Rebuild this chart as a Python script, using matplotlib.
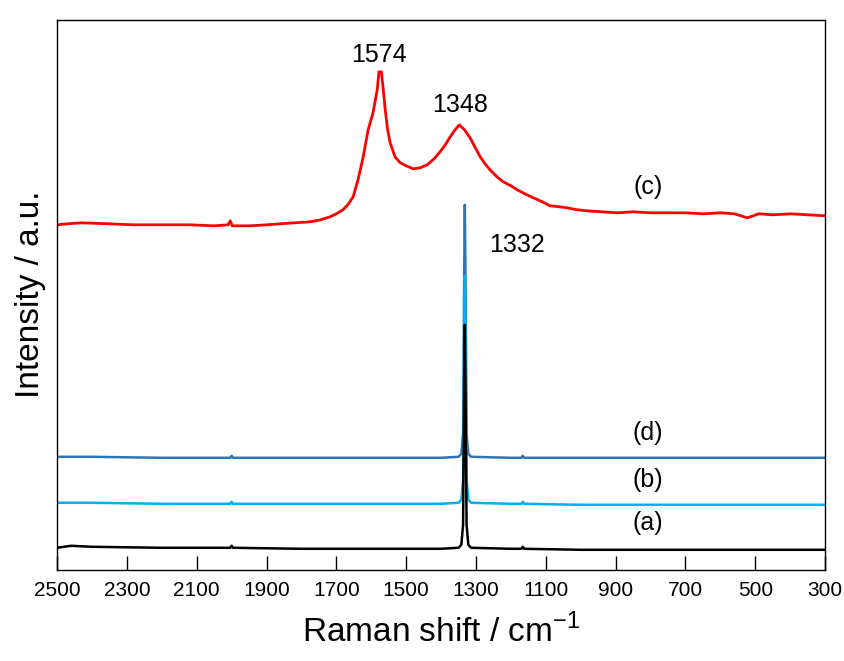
import matplotlib.pyplot as plt

plt.rcParams['font.family'] = ['Liberation Sans', 'DejaVu Sans']
plt.rcParams['mathtext.fontset'] = 'custom'
plt.rcParams['mathtext.rm'] = 'Liberation Sans'

# Raman shift (cm-1) and intensity (a.u., offset already included)
# (c) red - graphite-like D and G bands
c_shift = [2500, 2470, 2430, 2350, 2280, 2200, 2120, 2050, 2010, 2004, 1998, 1947,
           1900, 1861, 1820, 1775, 1745, 1718, 1700, 1681, 1665, 1652, 1638, 1623,
           1609, 1595, 1583, 1578, 1571, 1565, 1560, 1553, 1546, 1532, 1517, 1500,
           1480, 1460, 1440, 1420, 1403, 1388, 1374, 1360, 1348, 1333, 1317, 1302,
           1288, 1274, 1260, 1240, 1222, 1200, 1182, 1160, 1136, 1110, 1088, 1060,
           1039, 1010, 982, 940, 896, 850, 800, 750, 700, 650, 600, 560, 523, 490,
           450, 400, 350, 300]
c_int = [345, 346, 347, 346, 345, 345, 345, 344, 345, 349, 344, 344,
         345, 346, 347, 348, 350, 353, 356, 360, 366, 373, 390, 413,
         440, 457, 480, 498, 498, 478, 460, 440, 427, 413, 407, 404,
         401, 402, 405, 411, 418, 425, 433, 440, 445, 440, 432, 422,
         413, 406, 400, 393, 388, 384, 380, 376, 372, 368, 364, 363,
         362, 360, 359, 358, 357, 358, 357, 357, 357, 356, 357, 356, 352, 356,
         355, 356, 355, 354]

# (a), (b), (d) - diamond line at 1332
base_shift = [2500, 2460, 2400, 2200, 2004, 2000, 1996, 1800, 1600, 1400, 1350, 1342,
              1337, 1334, 1332, 1330, 1327, 1322, 1314, 1200, 1170, 1166, 1162, 1000,
              800, 600, 300]
a_int = [22, 24, 23, 22, 22, 24, 22, 21, 21, 21, 22, 25,
         45, 180, 245, 180, 45, 25, 22, 21, 21, 23, 21, 20,
         20, 20, 20]
b_int = [67, 67, 67, 66, 66, 68, 66, 66, 66, 66, 67, 70,
         90, 230, 294, 230, 90, 70, 67, 66, 66, 68, 66, 65,
         65, 65, 65]
d_int = [113, 113, 113, 112, 112, 114, 112, 112, 112, 112, 113, 116,
         136, 290, 365, 290, 136, 116, 113, 112, 112, 114, 112, 112,
         112, 112, 112]

x_ticks = [2500, 2300, 2100, 1900, 1700, 1500, 1300, 1100, 900, 700, 500, 300]

fig = plt.figure(figsize=(8.45, 6.61), dpi=100)
ax = fig.add_axes([0.0675, 0.138, 0.909, 0.832])

ax.plot(base_shift, d_int, color='#2E75B6', lw=1.8)
ax.plot(base_shift, b_int, color='#00B0F0', lw=1.8)
ax.plot(base_shift, a_int, color='black', lw=1.8)
ax.plot(c_shift, c_int, color='#FF0000', lw=2.0)

# peak labels and curve labels
ax.text(1577, 515, '1574', ha='center', va='center', fontsize=18)
ax.text(1346, 465, '1348', ha='center', va='center', fontsize=18)
ax.text(1182, 325, '1332', ha='center', va='center', fontsize=18)
ax.text(807, 383, '(c)', ha='center', va='center', fontsize=18)
ax.text(807, 137, '(d)', ha='center', va='center', fontsize=18)
ax.text(807, 90, '(b)', ha='center', va='center', fontsize=18)
ax.text(807, 47, '(a)', ha='center', va='center', fontsize=18)

ax.set_xlim(2500, 300)
ax.set_ylim(0, 550)
ax.set_xticks(x_ticks)
ax.set_yticks([])
ax.tick_params(axis='x', direction='in', length=10, width=1, labelsize=15, pad=8)
for s in ax.spines.values():
    s.set_linewidth(1)

ax.set_xlabel('Raman shift / cm$^{\\mathregular{-1}}$', fontsize=24, labelpad=10)
ax.set_ylabel('Intensity / a.u.', fontsize=24, labelpad=8)

plt.savefig('out.png', dpi=100)
